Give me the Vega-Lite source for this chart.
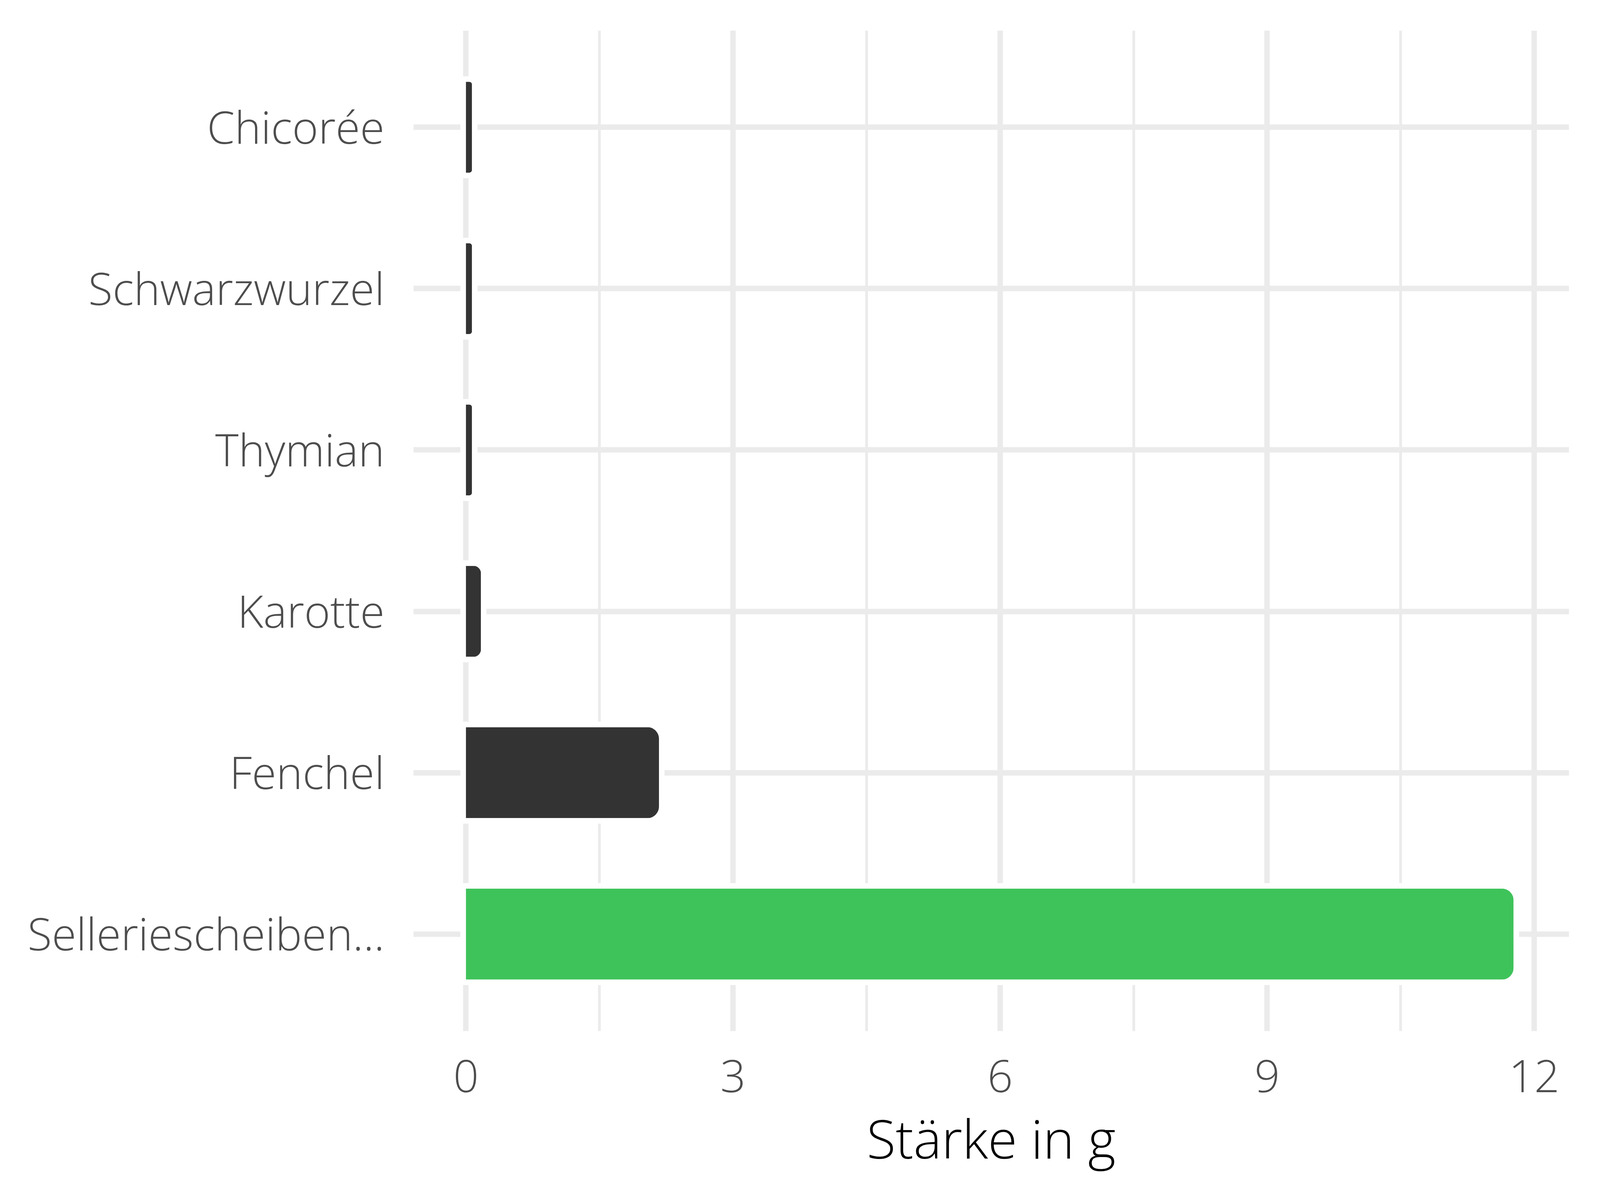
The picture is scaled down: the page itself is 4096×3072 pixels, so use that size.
{
  "$schema": "https://vega.github.io/schema/vega-lite/v6.json",
  "autosize": {"type": "none"},
  "padding": {"left": 1058, "top": 78, "right": 80, "bottom": 433},
  "width": 2958,
  "height": 2561,
  "background": "white",
  "config": {
    "view": {"stroke": null},
    "font": "Open Sans",
    "axis": {"labelFont": "Open Sans", "titleFont": "Open Sans", "labelFontWeight": 300, "titleFontWeight": 300, "labelLimit": 0}
  },
  "data": {
    "values": [
      {"Lebensmittel": "Chicorée", "Staerke": 0.07},
      {"Lebensmittel": "Schwarzwurzel", "Staerke": 0.07},
      {"Lebensmittel": "Thymian", "Staerke": 0.07},
      {"Lebensmittel": "Karotte", "Staerke": 0.17},
      {"Lebensmittel": "Fenchel", "Staerke": 2.17},
      {"Lebensmittel": "Selleriescheiben...", "Staerke": 11.77}
    ]
  },
  "encoding": {
    "y": {
      "field": "Lebensmittel",
      "type": "nominal",
      "sort": ["Chicorée", "Schwarzwurzel", "Thymian", "Karotte", "Fenchel", "Selleriescheiben..."],
      "scale": {"paddingInner": 0, "paddingOuter": 0.1},
      "axis": {
        "title": null,
        "domain": false,
        "ticks": false,
        "grid": true,
        "bandPosition": 0.5,
        "gridColor": "#EBEBEB",
        "gridWidth": 14,
        "labelFontSize": 114,
        "labelColor": "#4D4D4D",
        "labelPadding": 74,
        "labelOffset": 8,
        "labelLimit": 0
      }
    },
    "x": {
      "field": "Staerke",
      "type": "quantitative",
      "scale": {"domain": [-0.59, 12.39], "nice": false, "zero": false},
      "axis": {
        "orient": "bottom",
        "title": "Stärke in g",
        "values": [0, 3, 6, 9, 12],
        "domain": false,
        "ticks": false,
        "grid": true,
        "gridColor": "#EBEBEB",
        "gridWidth": 14,
        "labelFontSize": 114,
        "labelColor": "#4D4D4D",
        "labelPadding": 66,
        "titleFontSize": 136,
        "titleColor": "#000000",
        "titlePadding": 40
      }
    }
  },
  "layer": [
    {
      "mark": {"type": "bar", "fill": "white", "stroke": "white", "strokeWidth": 28, "cornerRadiusEnd": 36, "size": 233},
      "encoding": {
        "x": {
          "field": "Staerke",
          "type": "quantitative",
          "axis": {
            "values": [1.5, 4.5, 7.5, 10.5],
            "orient": "bottom",
            "labels": false,
            "title": null,
            "domain": false,
            "ticks": false,
            "grid": true,
            "gridColor": "#EBEBEB",
            "gridWidth": 7
          }
        }
      }
    },
    {
      "mark": {"type": "bar", "cornerRadiusEnd": 30, "size": 233},
      "encoding": {
        "color": {
          "field": "Lebensmittel",
          "type": "nominal",
          "scale": {
            "domain": ["Chicorée", "Schwarzwurzel", "Thymian", "Karotte", "Fenchel", "Selleriescheiben..."],
            "range": ["#333333", "#333333", "#333333", "#333333", "#333333", "#3EC35A"]
          },
          "legend": null
        }
      }
    }
  ],
  "resolve": {"axis": {"x": "independent"}}
}
